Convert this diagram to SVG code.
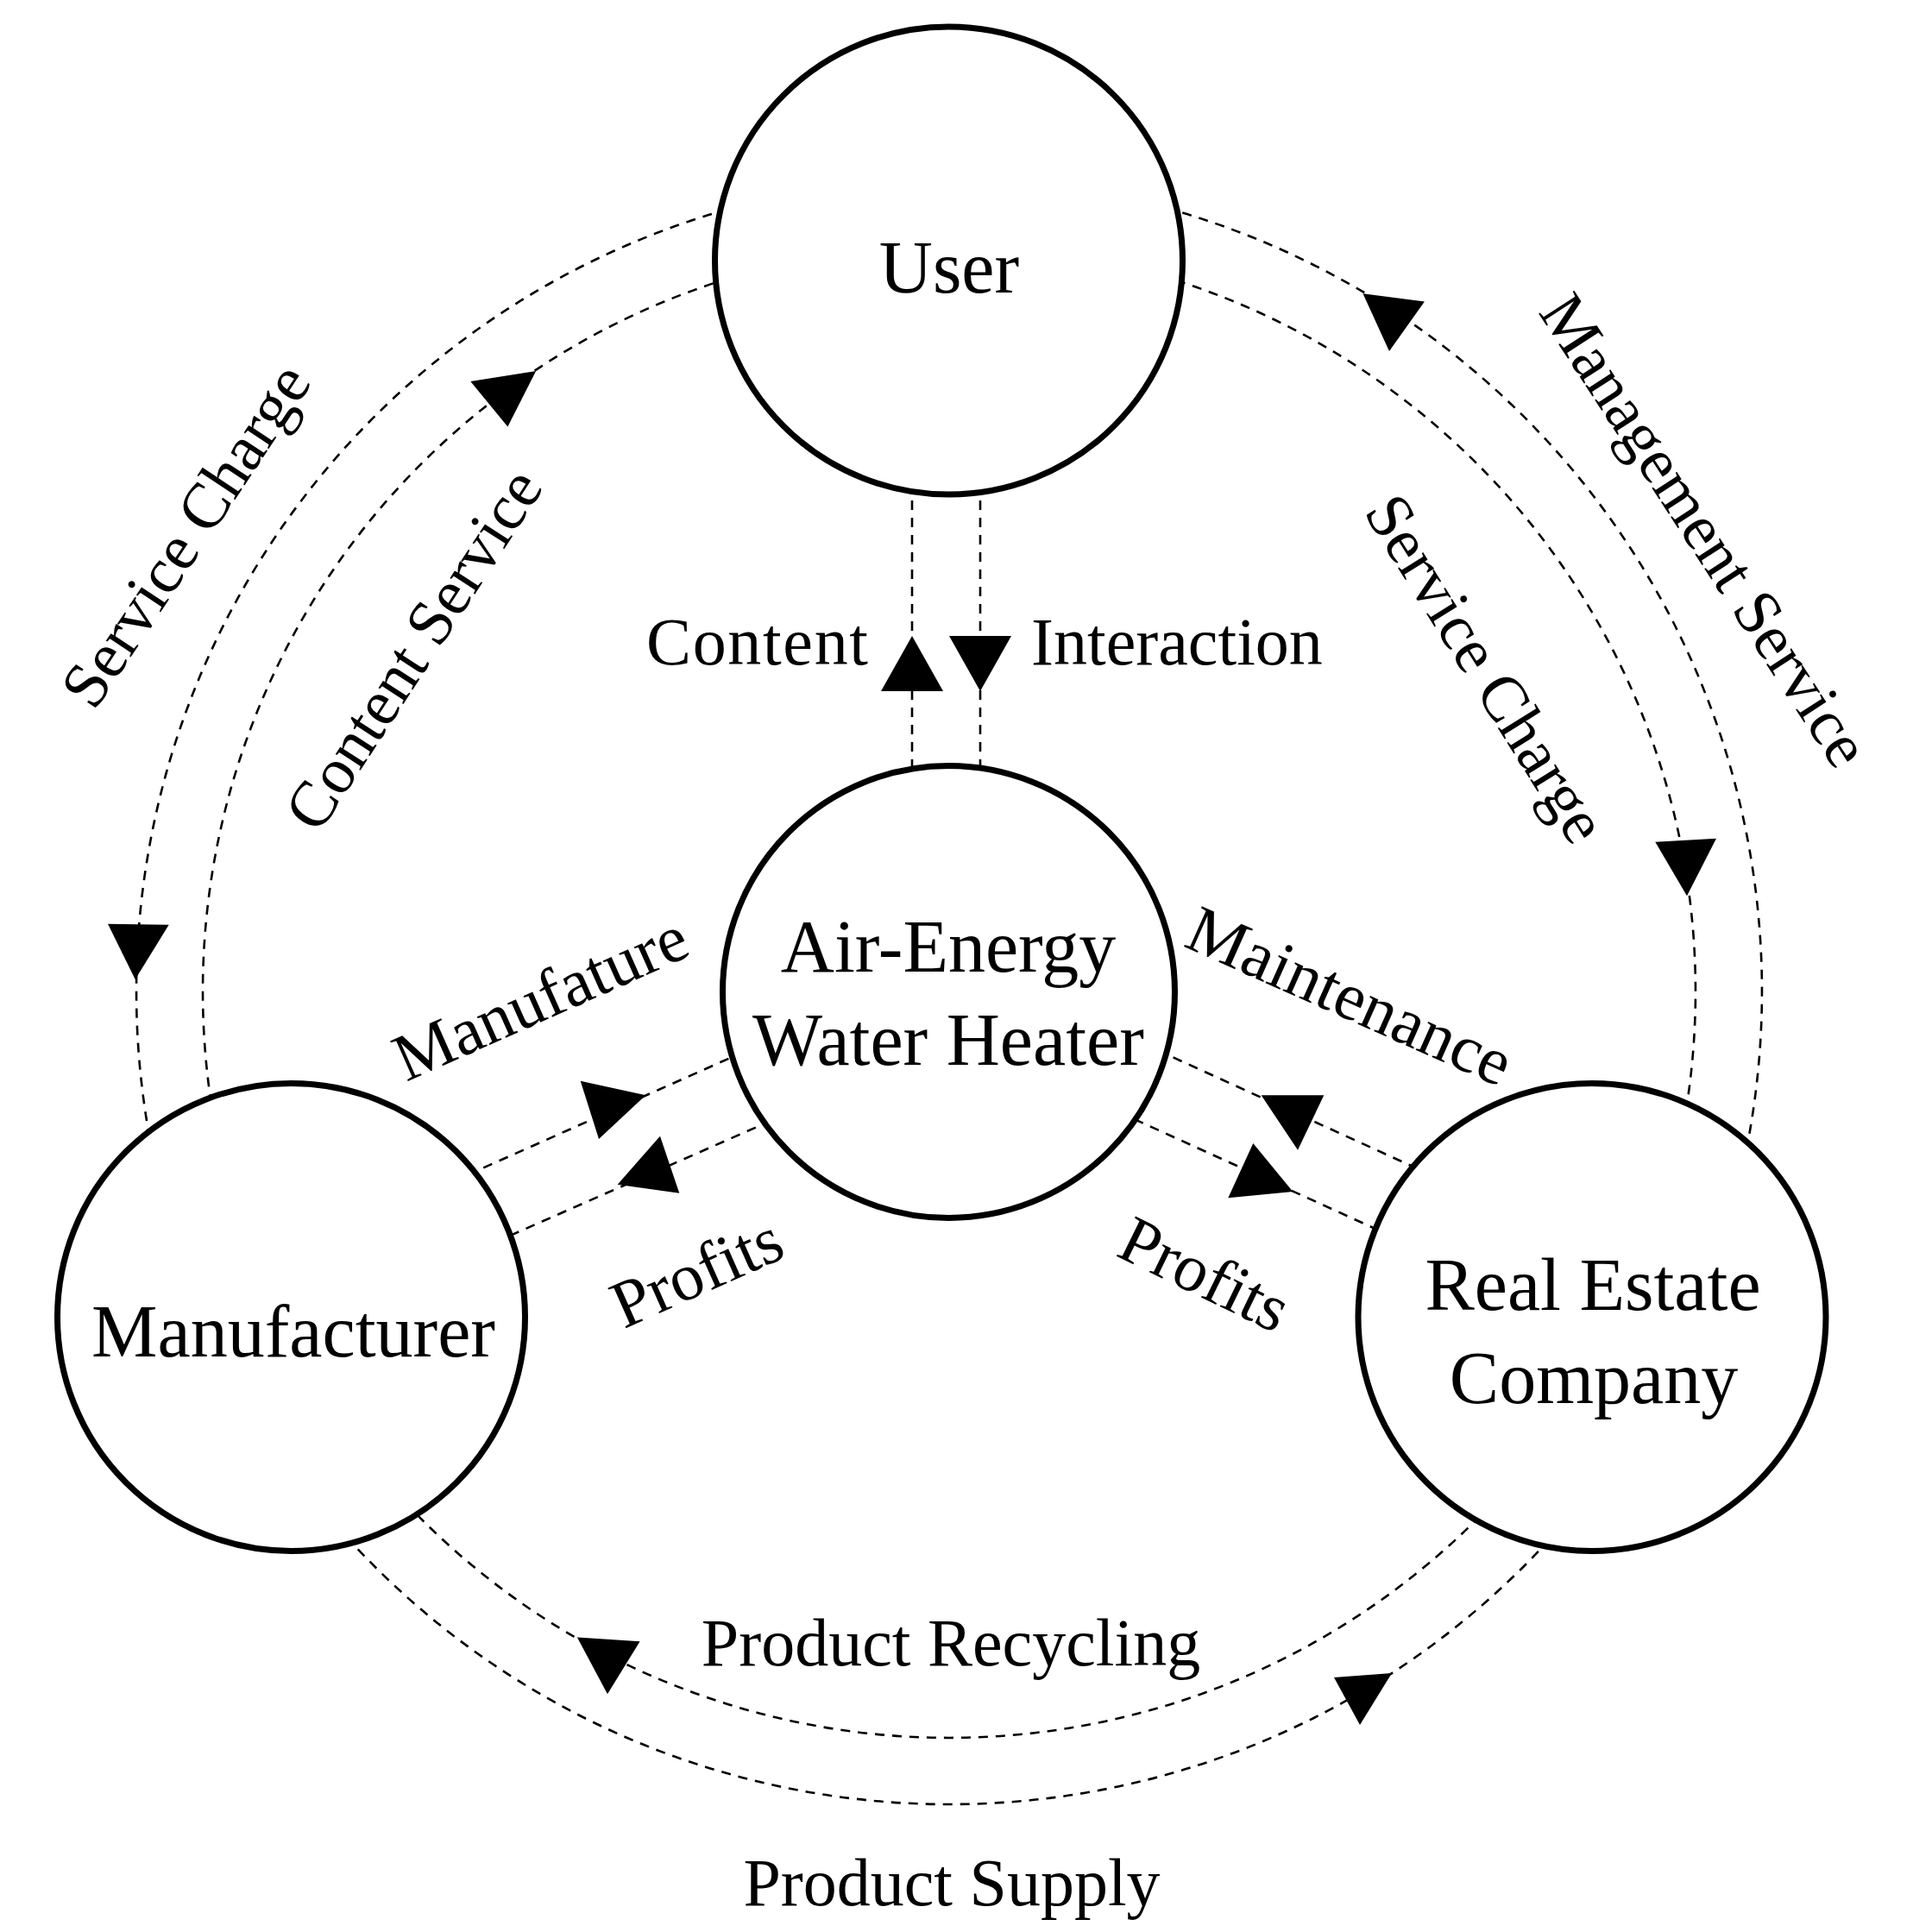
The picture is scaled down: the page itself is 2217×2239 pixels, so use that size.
<svg xmlns="http://www.w3.org/2000/svg" width="2217" height="2239" viewBox="0 0 2217 2239">
<style>
.node{fill:#fff;stroke:#000;stroke-width:7}
.lbl{font-family:"Liberation Serif","Times New Roman",serif;fill:#000}
.nt{font-size:86px;text-anchor:middle}
.et{font-size:78px}
.rt{font-size:75px}
.dash{fill:none;stroke:#000;stroke-width:2.6;stroke-dasharray:11 9}
.arrow{fill:#000;stroke:none}
</style>
<rect width="2217" height="2239" fill="#fff"/>
<g id="connectors">
  <path class="dash" d="M 863.4 237.2 A 942 942 0 0 0 177.7 1340.5"/>
  <path class="dash" d="M 387.9 1765.7 A 942 942 0 0 0 1808.4 1769.9"/>
  <path class="dash" d="M 2019.6 1353 A 942 942 0 0 0 1336.6 237.2"/>
  <path class="dash" d="M 248.1 1298.9 A 865 865 0 0 1 856.1 319.1"/>
  <path class="dash" d="M 1729.5 1742.2 A 865 865 0 0 1 464 1735.2"/>
  <path class="dash" d="M 1343.9 319.1 A 865 865 0 0 1 1950.7 1305.5"/>
  <line class="dash" x1="1057" y1="560" x2="1057" y2="900"/>
  <line class="dash" x1="1136" y1="560" x2="1136" y2="900"/>
  <line class="dash" x1="542" y1="1361.5" x2="857.7" y2="1220.9"/>
  <line class="dash" x1="591.2" y1="1431.9" x2="892.2" y2="1299.4"/>
  <line class="dash" x1="1341.4" y1="1217.1" x2="1644.6" y2="1355.2"/>
  <line class="dash" x1="1314.7" y1="1297.1" x2="1602.7" y2="1428"/>
  <polygon class="arrow" points="1057,737 1021,801 1093,801"/>
  <polygon class="arrow" points="1100,737 1172,737 1136,801"/>
  <polygon class="arrow" points="672.7,1252.7 748.3,1269.3 694,1320"/>
  <polygon class="arrow" points="765,1316.7 787.3,1382.7 715.7,1372.7"/>
  <polygon class="arrow" points="1461.7,1269.3 1534.3,1269.3 1504,1332.7"/>
  <polygon class="arrow" points="1452.3,1325 1498.3,1381 1423.3,1388.3"/>
  <polygon class="arrow" points="125,1070.7 195.7,1071.7 156.7,1135"/>
  <polygon class="arrow" points="545.3,442 621.1,430.1 588.4,494.6"/>
  <polygon class="arrow" points="1579.5,340.3 1650.9,349.4 1610,407"/>
  <polygon class="arrow" points="1918.3,975.7 1989,971.7 1955,1038.3"/>
  <polygon class="arrow" points="668.9,1897.6 741.6,1902.3 704,1963.2"/>
  <polygon class="arrow" points="1613,1939 1546,1944 1576,1999"/>
</g>
<g id="labels" class="lbl et">
  <text x="749" y="770" textLength="257">Content</text>
  <text x="1195" y="770">Interaction</text>
  <text x="1102" y="1930" text-anchor="middle">Product Recycling</text>
  <text x="1103" y="2208" text-anchor="middle">Product Supply</text>
  <text class="rt" text-anchor="middle" transform="translate(236,634) rotate(-56.5)">Service Charge</text>
  <text class="rt" text-anchor="middle" transform="translate(500,766) rotate(-57)">Content Service</text>
  <text class="rt" text-anchor="middle" transform="translate(1955,628) rotate(57)">Management Service</text>
  <text class="rt" text-anchor="middle" transform="translate(1701,788) rotate(58)">Service Charge</text>
  <text text-anchor="middle" transform="translate(637,1180) rotate(-24)">Manufature</text>
  <text text-anchor="middle" transform="translate(1554,1178) rotate(24)">Maintenance</text>
  <text text-anchor="middle" transform="translate(818,1498) rotate(-24)">Profits</text>
  <text text-anchor="middle" transform="translate(1385,1500) rotate(26)">Profits</text>
</g>
<g id="user">
  <circle class="node" cx="1099.5" cy="302" r="271"/>
  <text class="lbl nt" x="1100" y="339">User</text>
</g>
<g id="heater">
  <circle class="node" cx="1099.5" cy="1149.5" r="262"/>
  <text class="lbl nt" x="1099" y="1125.5">Air-Energy</text>
  <text class="lbl nt" x="1099" y="1234">Water Heater</text>
</g>
<g id="manufacturer">
  <circle class="node" cx="337.5" cy="1526.4" r="271"/>
  <text class="lbl nt" x="340" y="1572">Manufacturer</text>
</g>
<g id="realestate">
  <circle class="node" cx="1845" cy="1526.4" r="271"/>
  <text class="lbl nt" x="1846" y="1518">Real Estate</text>
  <text class="lbl nt" x="1847" y="1626">Company</text>
</g>
</svg>
